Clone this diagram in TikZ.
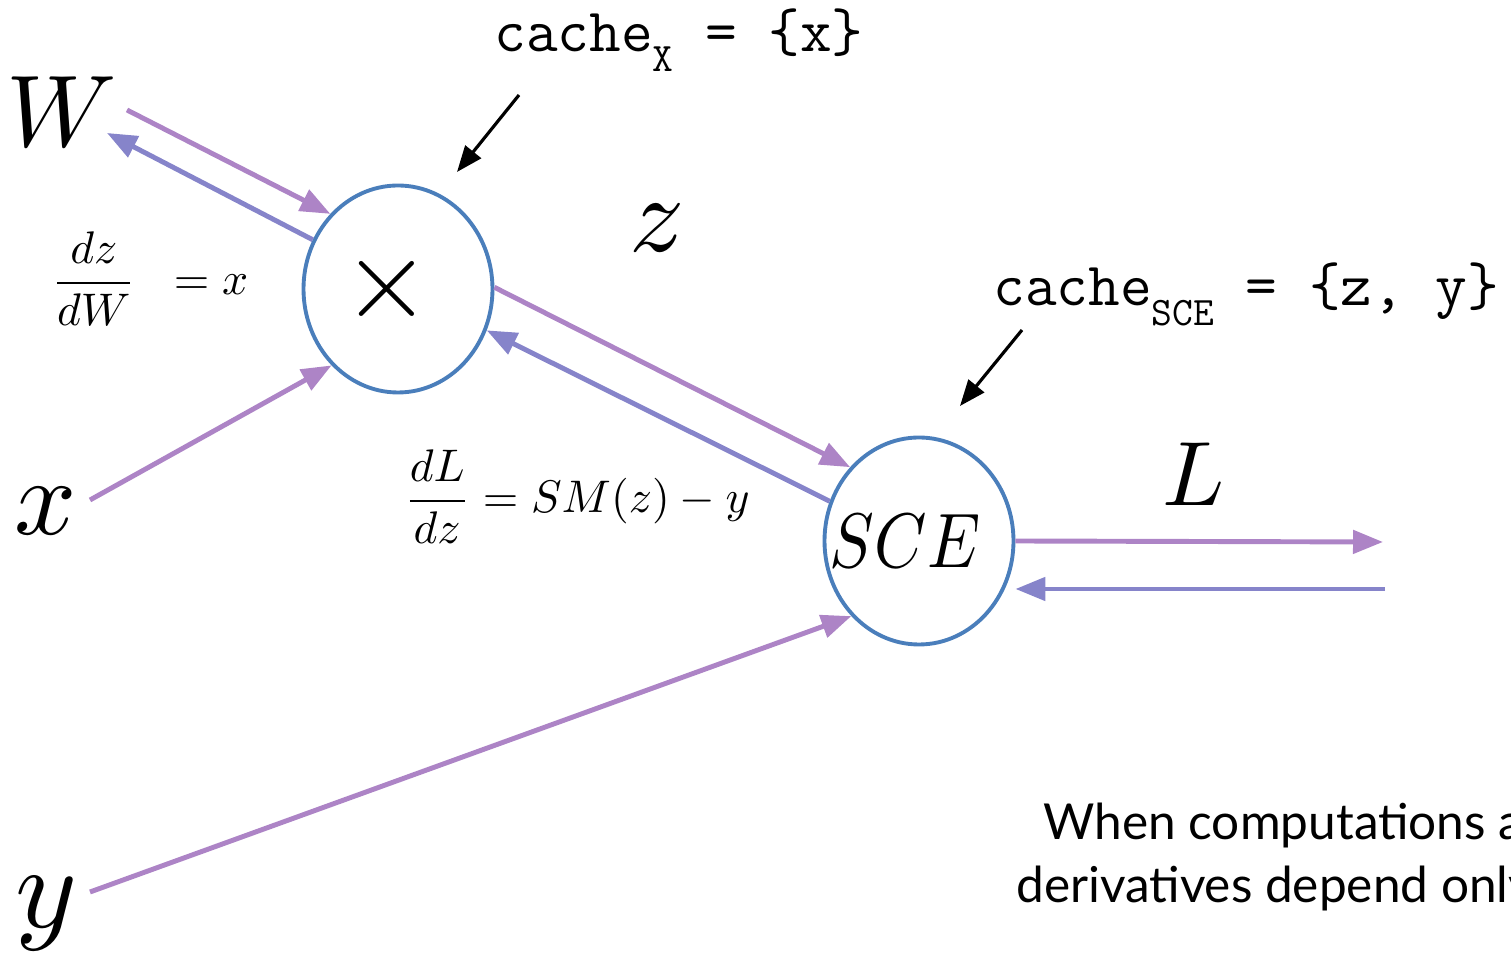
\documentclass[tikz,border=0pt]{standalone}
\usepackage{amsmath}
\usepackage{graphicx}
\usepackage{fontspec}
\newfontfamily\notefont{Lato}
\usetikzlibrary{arrows.meta,shapes.geometric}

\definecolor{fwdpurple}{RGB}{173,132,198}
\definecolor{bwdblue}{RGB}{134,132,202}
\definecolor{nodeblue}{RGB}{74,126,187}

\newcommand{\fsz}[1]{\fontsize{#1}{#1}\selectfont}
% формула, увеличенная от 10pt
\newcommand{\mathsz}[2]{\scalebox{#1}{$#2$}}

\tikzset{
  op/.style={ellipse, draw=nodeblue, line width=2.2pt, fill=white,
    minimum width=3.78cm, minimum height=4.14cm, inner sep=0pt},
  var/.style={inner sep=0pt},
  fwd/.style={draw=fwdpurple, line width=2.8pt,
    -{Triangle[length=0.6cm,width=0.46cm]}},
  bwd/.style={draw=bwdblue, line width=2.8pt,
    -{Triangle[length=0.6cm,width=0.46cm]}},
  callout/.style={draw=black, line width=1.8pt,
    -{Triangle[length=0.52cm,width=0.4cm]}},
  cachetext/.style={inner sep=0pt, anchor=base west, font=\ttfamily\fsz{35}},
}

\begin{document}
\begin{tikzpicture}

    % Рамка рисунка
    \useasboundingbox (0,0) rectangle (30.22,19.06);
    \clip (0,0) rectangle (30.22,19.06);

    % Узлы операций
    \node[op] (mul) at (7.96,13.28)
      {\makebox[0pt]{\raisebox{-0.12cm}{\mathsz{6.5}{\times}}\hspace{0.44cm}}};
    \node[op] (sce) at (18.38,8.24)
      {\makebox[0pt]{\scalebox{3.8}[4.4]{$SCE$}\hspace{0.56cm}}};

    % Переменные
    \node[var] (W) at (1.24,16.82) {\mathsz{5.8}{W}};
    \node[var] (xin) at (0.92,8.84) {\mathsz{6.2}{x}};
    \node[var] (yin) at (0.92,0.78) {\mathsz{6.7}{y}};
    \node[var] (z) at (13.14,14.50) {\mathsz{6.2}{z}};
    \node[var] (L) at (23.88,9.58) {\mathsz{5.2}{L}};

    % Свободные концы стрелок
    \coordinate (wout) at (2.54,16.86);
    \coordinate (win)  at (2.14,16.40);
    \coordinate (xout) at (1.80,9.06);
    \coordinate (yout) at (1.80,1.22);
    \coordinate (lout) at (27.66,8.22);
    \coordinate (lin)  at (27.70,7.28);
    \coordinate (cxs)  at (10.38,17.16);
    \coordinate (cxe)  at (9.14,15.62);
    \coordinate (css)  at (20.44,12.46);
    \coordinate (cse)  at (19.20,10.94);

    % Прямой проход
    \draw[fwd] (wout) -- (mul.132);
    \draw[fwd] (xout) -- (mul.229);
    \draw[fwd] (mul.1) -- (sce.133);
    \draw[fwd] (yout) -- (sce.228);
    \draw[fwd] (sce.east) -- (lout);

    % Обратный проход
    \draw[bwd] (mul.150) -- (win);
    \draw[bwd] (sce.156) -- (mul.-25);
    \draw[bwd] (lin) -- (lin -| sce.east);

    % Производные
    \node[var] (dzdw) at (3.00,13.48) {\mathsz{2.6}{\dfrac{dz}{dW}\;\;= x}};
    \node[var] (dldz) at (11.54,9.12) {\mathsz{2.6}{\dfrac{dL}{dz} = SM(z) - y}};

    % Кэши
    \node[cachetext] (cachex) at (9.88,18.02)
      {cache\raisebox{-11pt}{\fsz{23}X} = \{x\}};
    \node[cachetext] (cachesce) at (19.86,12.94)
      {cache\raisebox{-11pt}{\fsz{23}SCE} = \{z, y\}};
    \draw[callout] (cxs) -- (cxe);
    \draw[callout] (css) -- (cse);

    % Подпись внизу справа (обрезана краем)
    \node[inner sep=0pt, anchor=base west, font=\notefont\fsz{28.2}] (note1)
      at (20.86,2.26) {When computations are};
    \node[inner sep=0pt, anchor=base west, font=\notefont\fsz{28.2}] (note2)
      at (20.32,1.00) {derivatives depend only};

\end{tikzpicture}
\end{document}
